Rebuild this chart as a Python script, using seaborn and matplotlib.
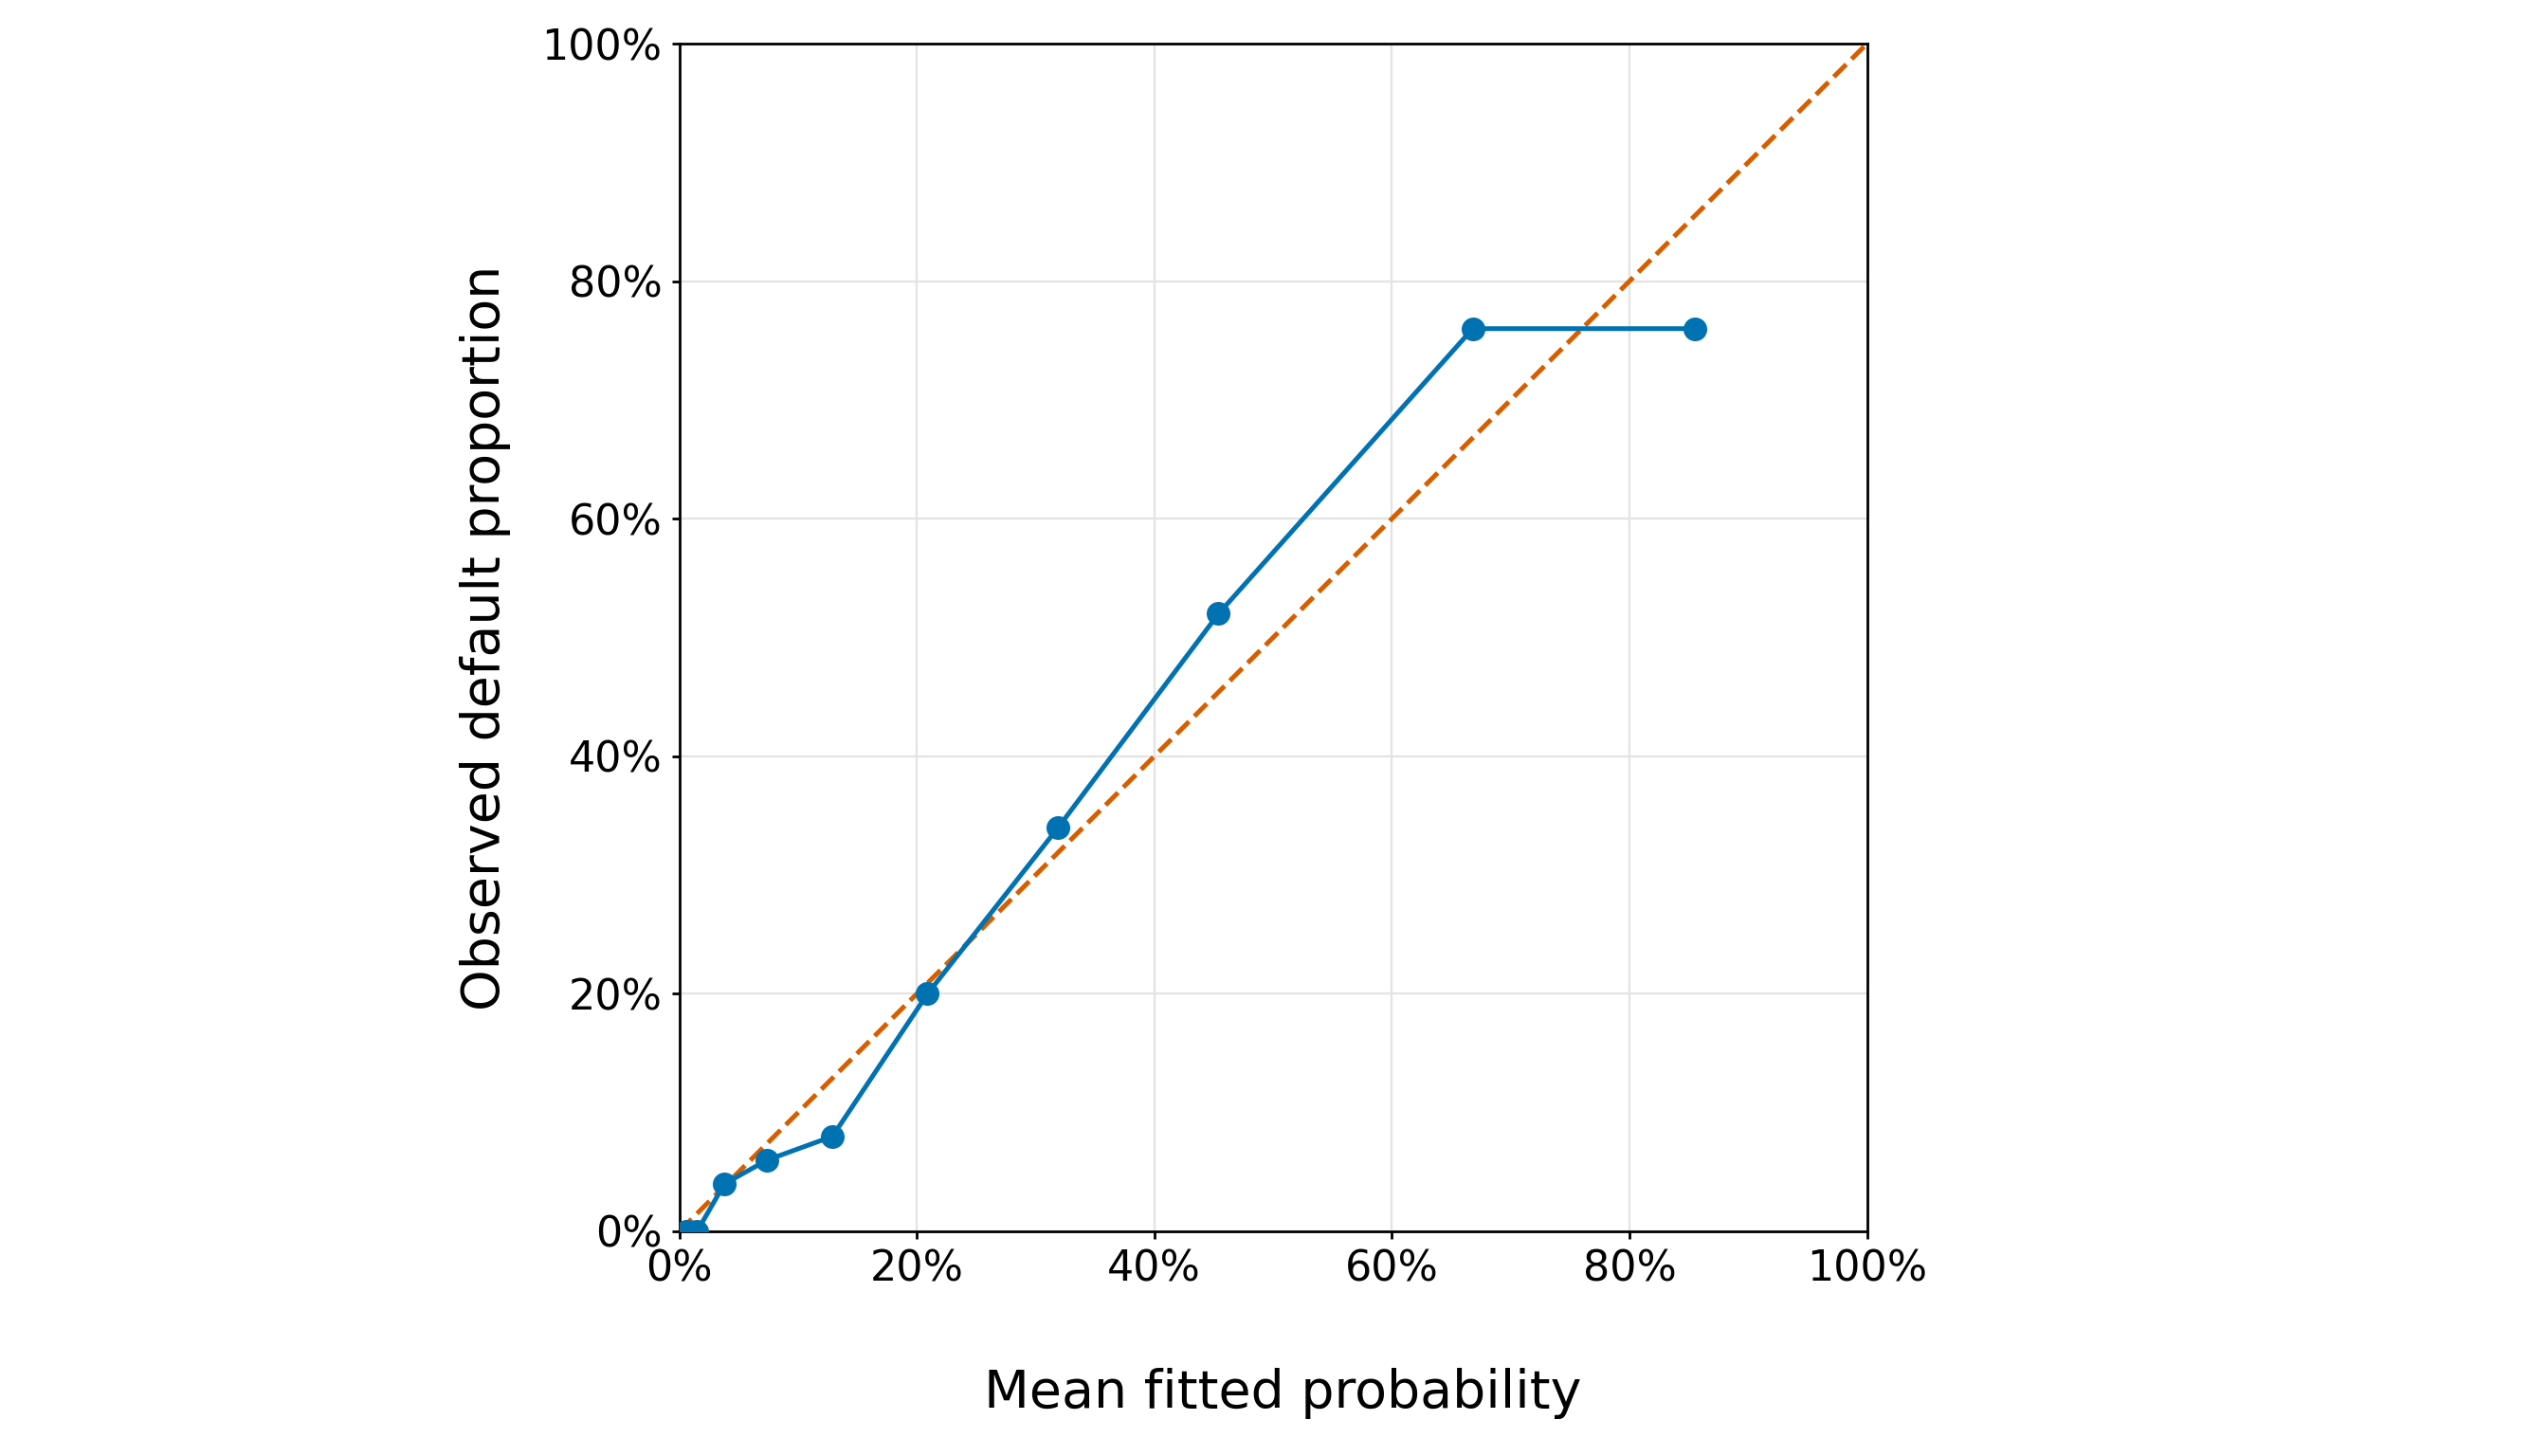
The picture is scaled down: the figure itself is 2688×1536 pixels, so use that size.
import numpy as np
import pandas as pd
import matplotlib
matplotlib.use("Agg")
import matplotlib.pyplot as plt
import seaborn as sns
from matplotlib.ticker import PercentFormatter

# Datos de calibración (proporción media ajustada vs. proporción observada)
mean_fitted = [0.006, 0.015, 0.038, 0.074, 0.129, 0.209, 0.319, 0.454, 0.668, 0.855]
observed = [0.0, 0.0, 0.04, 0.06, 0.08, 0.20, 0.34, 0.52, 0.76, 0.76]
diag = [0.0, 1.0]

df = pd.DataFrame({"mean_fitted": mean_fitted, "observed": observed})

sns.set_style("white")
plt.rcParams['font.family'] = ['DejaVu Sans']
plt.rcParams['text.color'] = 'black'
plt.rcParams['axes.labelcolor'] = 'black'

fig = plt.figure(figsize=(13.44, 7.68), dpi=200)
ax = fig.add_axes([716.6 / 2688, 1 - 1299 / 1536, 1253 / 2688, 1253 / 1536])

blue = "#0072B2"
orange = "#D55E00"

sns.lineplot(data=df, x="mean_fitted", y="observed", ax=ax, color=blue,
             linewidth=1.8, marker="o", markersize=9, markeredgewidth=0,
             sort=False, zorder=3)
ax.plot(diag, diag, linestyle="--", color=orange, linewidth=1.8, zorder=2)

ax.set_xlim(0, 1)
ax.set_ylim(0, 1)
ax.set_xticks(np.arange(0, 1.01, 0.2))
ax.set_yticks(np.arange(0, 1.01, 0.2))
ax.xaxis.set_major_formatter(PercentFormatter(1.0, decimals=0))
ax.yaxis.set_major_formatter(PercentFormatter(1.0, decimals=0))
ax.grid(True, color="#e3e3e3", linewidth=0.8)
ax.set_axisbelow(True)

for s in ax.spines.values():
    s.set_visible(True)
    s.set_color("black")
    s.set_linewidth(1.0)

ax.tick_params(axis="both", labelsize=16, length=3, width=1.0,
               direction="out", colors="black", bottom=True, left=True)
ax.set_xlabel("Mean fitted probability", fontsize=20, labelpad=30)
ax.set_ylabel("Observed default proportion", fontsize=20, labelpad=11.5)
ax.xaxis.set_label_coords(0.508, -0.115)

fig.savefig("out.png", dpi=200)
